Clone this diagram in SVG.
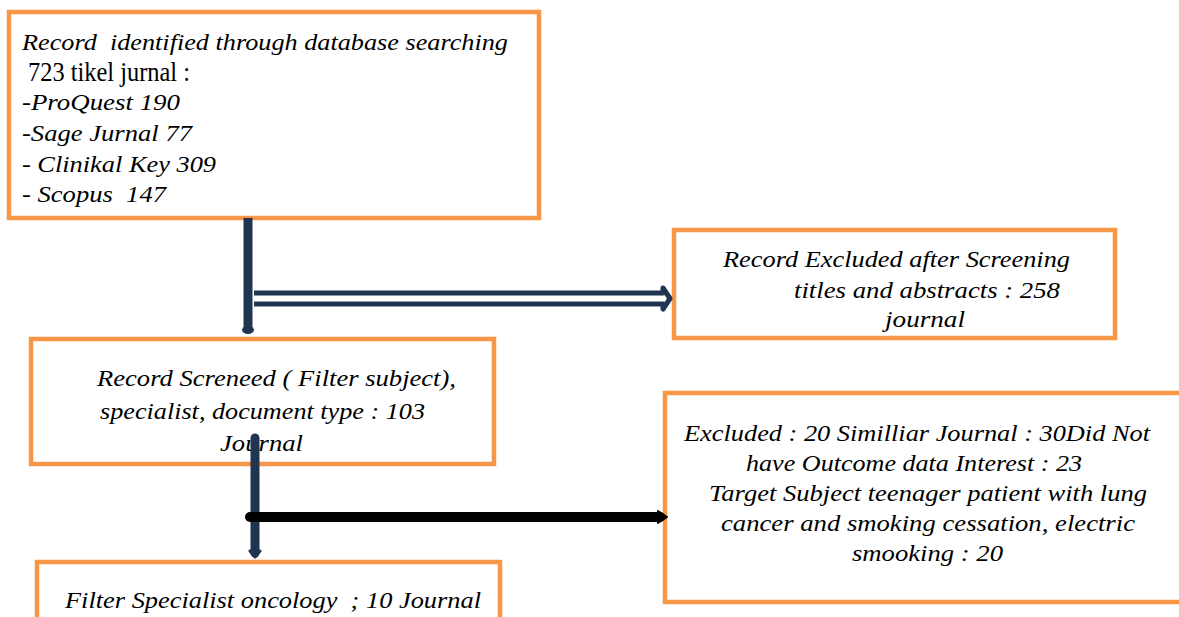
<svg xmlns="http://www.w3.org/2000/svg" width="1179" height="617" viewBox="0 0 1179 617">
<style>
.box{fill:#fff;stroke:#F79646;stroke-width:4.5}
.t{font-style:italic;fill:#000;white-space:pre}
.up{font-style:normal;font-size:27px}
</style>
<rect width="1179" height="617" fill="#fff"/>
<g font-family="Liberation Serif, serif" font-size="24">
<g id="n1"><rect class="box" x="9" y="12" width="530" height="206"/>
<text class="t" x="22" y="50" textLength="486" lengthAdjust="spacingAndGlyphs">Record  identified through database searching</text>
<text class="t up" x="22" y="81" textLength="168" lengthAdjust="spacingAndGlyphs"> 723 tikel jurnal :</text>
<text class="t" x="22" y="110" textLength="158" lengthAdjust="spacingAndGlyphs">-ProQuest 190</text>
<text class="t" x="22" y="141" textLength="170" lengthAdjust="spacingAndGlyphs">-Sage Jurnal 77</text>
<text class="t" x="22" y="172" textLength="194" lengthAdjust="spacingAndGlyphs">- Clinikal Key 309</text>
<text class="t" x="22" y="202" textLength="144" lengthAdjust="spacingAndGlyphs">- Scopus  147</text></g>
<g id="n2"><rect class="box" x="674" y="230" width="441" height="108"/>
<text class="t" x="723" y="267" textLength="347" lengthAdjust="spacingAndGlyphs">Record Excluded after Screening</text>
<text class="t" x="794" y="298" textLength="266" lengthAdjust="spacingAndGlyphs">titles and abstracts : 258</text>
<text class="t" x="885" y="327" textLength="80" lengthAdjust="spacingAndGlyphs">journal</text></g>
<g id="n3"><rect class="box" x="31" y="339" width="463" height="125"/>
<text class="t" x="97" y="386" textLength="359" lengthAdjust="spacingAndGlyphs">Record Screneed ( Filter subject),</text>
<text class="t" x="100" y="419" textLength="325" lengthAdjust="spacingAndGlyphs">specialist, document type : 103</text>
<text class="t" x="220" y="451" textLength="83" lengthAdjust="spacingAndGlyphs">Journal</text></g>
<g id="n4"><rect class="box" x="665" y="393" width="530" height="209"/>
<text class="t" x="684" y="441" textLength="466" lengthAdjust="spacingAndGlyphs">Excluded : 20 Similliar Journal : 30Did Not</text>
<text class="t" x="746" y="471" textLength="336" lengthAdjust="spacingAndGlyphs">have Outcome data Interest : 23</text>
<text class="t" x="709" y="501" textLength="438" lengthAdjust="spacingAndGlyphs">Target Subject teenager patient with lung</text>
<text class="t" x="721" y="531" textLength="414" lengthAdjust="spacingAndGlyphs">cancer and smoking cessation, electric</text>
<text class="t" x="852" y="561" textLength="151" lengthAdjust="spacingAndGlyphs">smooking : 20</text></g>
<g id="n5"><rect class="box" x="37" y="562" width="463" height="80"/>
<text class="t" x="65" y="608" textLength="416" lengthAdjust="spacingAndGlyphs">Filter Specialist oncology  ; 10 Journal</text></g>
</g>
<g id="connectors">
<line x1="248" y1="218" x2="248" y2="330" stroke="#1F3550" stroke-width="9"/>
<ellipse cx="248" cy="330" rx="6" ry="4" fill="#1F3550"/>
<path d="M254,293 L663,293 L663,288 L670,298.5 L663,309 L663,304 L254,304" fill="#fff" stroke="#1F3550" stroke-width="5" stroke-linejoin="round"/>
<line x1="255" y1="438" x2="255" y2="553" stroke="#1F3550" stroke-width="9" stroke-linecap="round"/>
<path d="M250,551 L260,551 L255,557 Z" fill="#1F3550" stroke="#1F3550" stroke-width="3" stroke-linejoin="round"/>
<line x1="250" y1="517" x2="660" y2="517" stroke="#000" stroke-width="10" stroke-linecap="round"/>
<path d="M658,511 L667,517 L658,523 Z" fill="#000" stroke="#000" stroke-width="2" stroke-linejoin="round"/>
</g>
</svg>
